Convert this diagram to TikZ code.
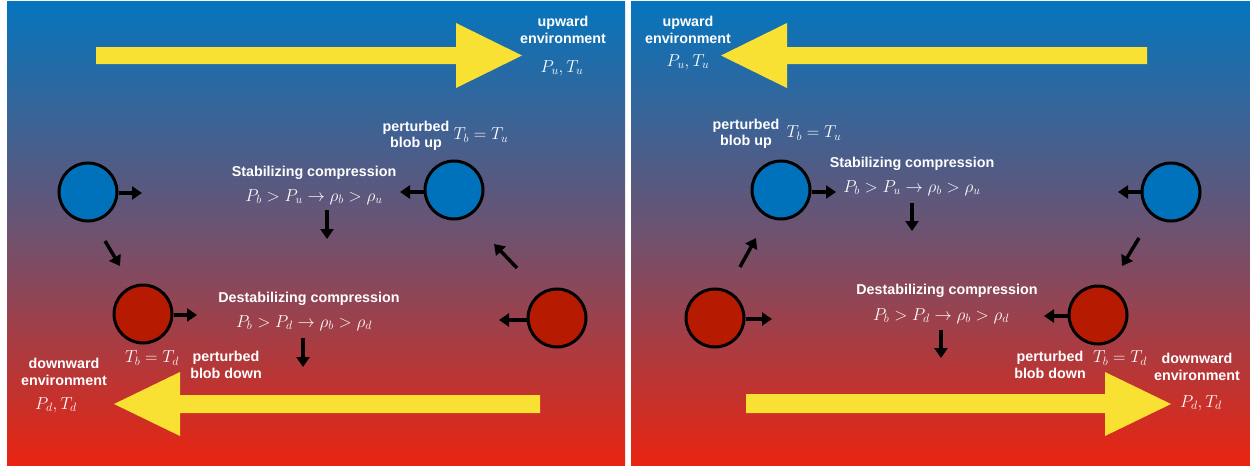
\documentclass[tikz,border=0pt]{standalone}
\usepackage{fontspec}
\setsansfont{Liberation Sans}
\usetikzlibrary{arrows.meta}
\definecolor{bgblue}{RGB}{5,117,189}
\definecolor{bgred}{RGB}{233,36,16}
\definecolor{bgmid}{RGB}{110,82,112}
\definecolor{yel}{RGB}{248,225,50}
\definecolor{blobblue}{RGB}{0,114,187}
\definecolor{blobred}{RGB}{182,26,0}
\tikzset{
  lbl/.style={text=white,align=center,font=\sffamily\bfseries\fontsize{14.3}{16.5}\selectfont,inner sep=0pt},
  mth/.style={text=white,font=\fontsize{17}{20}\selectfont,inner sep=0pt},
  blob/.style={circle,draw=black,line width=3pt,minimum size=58pt,inner sep=0pt},
  bblob/.style={blob,fill=blobblue},
  rblob/.style={blob,fill=blobred},
  push/.style={line width=3.5pt,-{Triangle[length=10pt,width=13pt]}},
  yarrow/.style={fill=yel},
  panel/.style={top color=bgblue,bottom color=bgred,middle color=bgmid,draw=none}
}
\begin{document}
\begin{tikzpicture}[x=1pt,y=-1pt]
\useasboundingbox (0,0) rectangle (1250,467);
\fill[white] (0,0) rectangle (1250,467);
% panels
\shade[panel] (7,1) rectangle (625,465);
\shade[panel] (631,1) rectangle (1250,465);

% ---------- left panel ----------
\fill[yarrow] (96,47) -- (456,47) -- (456,23) -- (522,55.5) -- (456,88) -- (456,64) -- (96,64) -- cycle;
\fill[yarrow] (540,395) -- (180,395) -- (180,372) -- (114,404) -- (180,436) -- (180,413) -- (540,413) -- cycle;

\node[lbl] (up1) at (563,30) {upward\\environment};
\node[mth] (pu1) at (562,68) {$P_u, T_u$};
\node[lbl] (pbu1) at (416,136) {perturbed\\blob up};
\node[mth] (tbu1) at (481,135) {$T_b = T_u$};
\node[bblob] (bl1) at (88,192) {};
\node[bblob] (br1) at (454,190) {};
\node[lbl] (stab1) at (314,173) {Stabilizing compression};
\node[mth] (sf1) at (314,197) {$P_b > P_u \rightarrow \rho_b > \rho_u$};
\node[rblob] (rl1) at (143,314) {};
\node[rblob] (rr1) at (557,318) {};
\node[lbl] (destab1) at (309,299) {Destabilizing compression};
\node[mth] (df1) at (304,323) {$P_b > P_d \rightarrow \rho_b > \rho_d$};
\node[mth] (tbd1) at (152,358) {$T_b = T_d$};
\node[lbl] (pbd1) at (226,365) {perturbed\\blob down};
\node[lbl] (dn1) at (64,372) {downward\\environment};
\node[mth] (pd1) at (56,405) {$P_d, T_d$};

\coordinate (a1) at (142,193);
\draw[push] (bl1.east |- a1) -- (a1);
\coordinate (a2) at (400,192);
\draw[push] (br1.west |- a2) -- (a2);
\coordinate (a3s) at (327,210); \coordinate (a3e) at (327,239);
\draw[push] (a3s) -- (a3e);
\coordinate (a4s) at (105,241); \coordinate (a4e) at (120,266);
\draw[push] (a4s) -- (a4e);
\coordinate (a5s) at (517,268); \coordinate (a5e) at (494,244);
\draw[push] (a5s) -- (a5e);
\coordinate (a6) at (197,315);
\draw[push] (rl1.east |- a6) -- (a6);
\coordinate (a7) at (499,320);
\draw[push] (rr1.west |- a7) -- (a7);
\coordinate (a8s) at (303,338); \coordinate (a8e) at (303,367);
\draw[push] (a8s) -- (a8e);

% ---------- right panel ----------
\fill[yarrow] (1147,47) -- (787,47) -- (787,23) -- (721,55.5) -- (787,88) -- (787,64) -- (1147,64) -- cycle;
\fill[yarrow] (746,394) -- (1105,394) -- (1105,372) -- (1171,404) -- (1105,436) -- (1105,413) -- (746,413) -- cycle;

\node[lbl] (up2) at (688,30) {upward\\environment};
\node[mth] (pu2) at (688,62) {$P_u, T_u$};
\node[lbl] (pbu2) at (746,134) {perturbed\\blob up};
\node[mth] (tbu2) at (814,133) {$T_b = T_u$};
\node[bblob] (bl2) at (781,190) {};
\node[bblob] (br2) at (1171,192) {};
\node[lbl] (stab2) at (912,164) {Stabilizing compression};
\node[mth] (sf2) at (912,188) {$P_b > P_u \rightarrow \rho_b > \rho_u$};
\node[rblob] (rl2) at (715,318) {};
\node[rblob] (rr2) at (1098,315) {};
\node[lbl] (destab2) at (947,291) {Destabilizing compression};
\node[mth] (df2) at (941,316) {$P_b > P_d \rightarrow \rho_b > \rho_d$};
\node[lbl] (pbd2) at (1050,365) {perturbed\\blob down};
\node[mth] (tbd2) at (1120,358) {$T_b = T_d$};
\node[lbl] (dn2) at (1197,367) {downward\\environment};
\node[mth] (pd2) at (1201,403) {$P_d, T_d$};

\coordinate (b1) at (836,192);
\draw[push] (bl2.east |- b1) -- (b1);
\coordinate (b2) at (1118,192);
\draw[push] (br2.west |- b2) -- (b2);
\coordinate (b3s) at (912,203); \coordinate (b3e) at (912,231);
\draw[push] (b3s) -- (b3e);
\coordinate (b4s) at (740,267); \coordinate (b4e) at (756,238);
\draw[push] (b4s) -- (b4e);
\coordinate (b5s) at (1139,238); \coordinate (b5e) at (1122,266);
\draw[push] (b5s) -- (b5e);
\coordinate (b6) at (772,319);
\draw[push] (rl2.east |- b6) -- (b6);
\coordinate (b7) at (1044,316);
\draw[push] (rr2.west |- b7) -- (b7);
\coordinate (b8s) at (941,330); \coordinate (b8e) at (941,358);
\draw[push] (b8s) -- (b8e);
\end{tikzpicture}
\end{document}
